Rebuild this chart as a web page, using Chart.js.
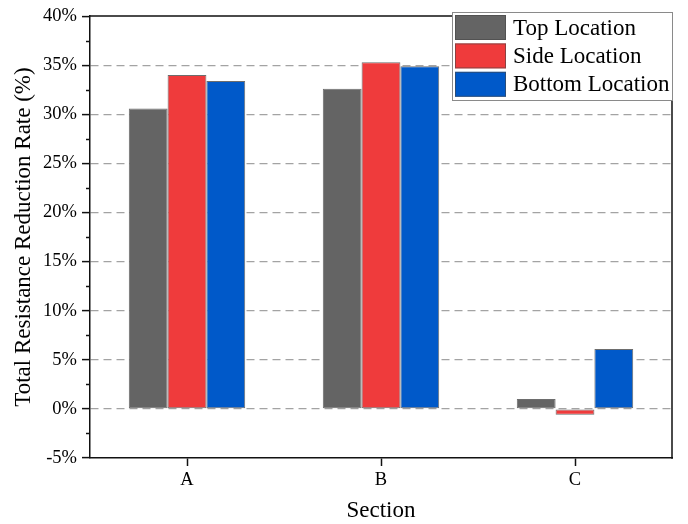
<!DOCTYPE html>
<html>
<head>
<meta charset="utf-8">
<script src="https://cdn.jsdelivr.net/npm/chart.js@4/dist/chart.umd.min.js"></script>
<style>
  html, body { margin: 0; padding: 0; background: #fff; }
  #wrap { width: 688px; height: 524px; position: relative; }
</style>
</head>
<body>
<div id="wrap"><canvas id="c" width="688" height="524"></canvas></div>
<script>
// Sections along the x axis
const categories = ['A', 'B', 'C'];

// Total resistance reduction rate (%) per installation location
const topLocation = [30.6, 32.6, 1.0];
const sideLocation = [34.0, 35.3, -0.6];
const bottomLocation = [33.4, 34.9, 6.1];

const seriesNames = ['Top Location', 'Side Location', 'Bottom Location'];
const seriesColors = ['#646464', '#EF3B3C', '#0059C9'];

// Y axis range and step (%)
const yMin = -5;
const yMax = 40;
const yStep = 5;

const serif = '"Liberation Serif", "Times New Roman", serif';

// Closes the plot frame, adds minor ticks and draws the boxed legend
const framePlugin = {
  id: 'frame',
  afterDraw(chart) {
    const ctx = chart.ctx;
    const a = chart.chartArea;
    const ys = chart.scales.y;
    ctx.save();
    ctx.strokeStyle = '#111';
    ctx.lineWidth = 1.5;
    ctx.beginPath();
    ctx.moveTo(a.left - 0.75, a.top);
    ctx.lineTo(a.right, a.top);
    ctx.lineTo(a.right, a.bottom + 0.75);
    ctx.stroke();

    // minor ticks halfway between labelled values
    ctx.lineWidth = 1.5;
    for (let v = yMin + yStep / 2; v < yMax; v += yStep) {
      const y = Math.round(ys.getPixelForValue(v)) + 0.5;
      ctx.beginPath();
      ctx.moveTo(a.left - 4, y);
      ctx.lineTo(a.left, y);
      ctx.stroke();
    }

    // legend box
    const bx = 452, by = 12, bw = 220, bh = 88;
    ctx.fillStyle = '#fff';
    ctx.fillRect(bx, by, bw, bh);
    ctx.strokeStyle = '#8a8a8a';
    ctx.lineWidth = 1;
    ctx.strokeRect(bx + 0.5, by + 0.5, bw, bh);
    ctx.font = '23px ' + serif;
    ctx.textBaseline = 'middle';
    ctx.textAlign = 'left';
    chart.data.datasets.forEach((ds, i) => {
      const sy = 15 + i * 28.4;
      ctx.fillStyle = ds.backgroundColor;
      ctx.fillRect(455, sy, 51, 25);
      ctx.strokeStyle = 'rgba(70,70,70,0.6)';
      ctx.strokeRect(455.5, sy + 0.5, 50, 24);
      ctx.fillStyle = '#000';
      ctx.fillText(ds.label, 513, sy + 13.5);
    });
    ctx.restore();
  }
};

new Chart(document.getElementById('c'), {
  type: 'bar',
  data: {
    labels: categories,
    datasets: [topLocation, sideLocation, bottomLocation].map((vals, i) => ({
      label: seriesNames[i],
      data: vals,
      backgroundColor: seriesColors[i],
      borderColor: 'rgba(60,60,60,0.75)',
      borderWidth: 1,
      borderSkipped: false,
      categoryPercentage: 0.6,
      barPercentage: 1.0
    }))
  },
  options: {
    responsive: false,
    animation: false,
    devicePixelRatio: 1,
    layout: { padding: { left: 0, right: 16, top: 15, bottom: 0 } },
    plugins: {
      legend: { display: false },
      tooltip: { enabled: false }
    },
    scales: {
      x: {
        afterFit(scale) { scale.height = 66; },
        grid: {
          display: true,
          drawOnChartArea: false,
          offset: false,
          drawTicks: true,
          tickLength: 8,
          tickColor: '#111',
          tickWidth: 1.5
        },
        border: { display: true, color: '#111', width: 1.5 },
        ticks: {
          color: '#000',
          padding: 3,
          font: { family: serif, size: 18.5 }
        },
        title: {
          display: true,
          text: 'Section',
          color: '#000',
          font: { family: serif, size: 23, lineHeight: 1 },
          padding: { top: 0, bottom: 1.5 }
        }
      },
      y: {
        min: yMin,
        max: yMax,
        afterFit(scale) { scale.width = 90; },
        grid: {
          display: true,
          drawOnChartArea: true,
          drawTicks: true,
          tickLength: 8,
          tickColor: '#111',
          tickWidth: 1.5,
          lineWidth: 1.2,
          color(ctx) {
            const v = ctx.tick ? ctx.tick.value : null;
            return (v === yMin || v === yMax) ? 'rgba(0,0,0,0)' : '#a3a3a3';
          }
        },
        border: { display: true, color: '#111', width: 1.5, dash: [8, 5] },
        ticks: {
          stepSize: yStep,
          color: '#000',
          padding: 5,
          font: { family: serif, size: 18.5 },
          callback: (v) => v + '%'
        },
        title: {
          display: true,
          text: 'Total Resistance Reduction Rate (%)',
          color: '#000',
          font: { family: serif, size: 23, lineHeight: 1 },
          padding: { top: 12.5, bottom: 0 }
        }
      }
    }
  },
  plugins: [framePlugin]
});
</script>
</body>
</html>
